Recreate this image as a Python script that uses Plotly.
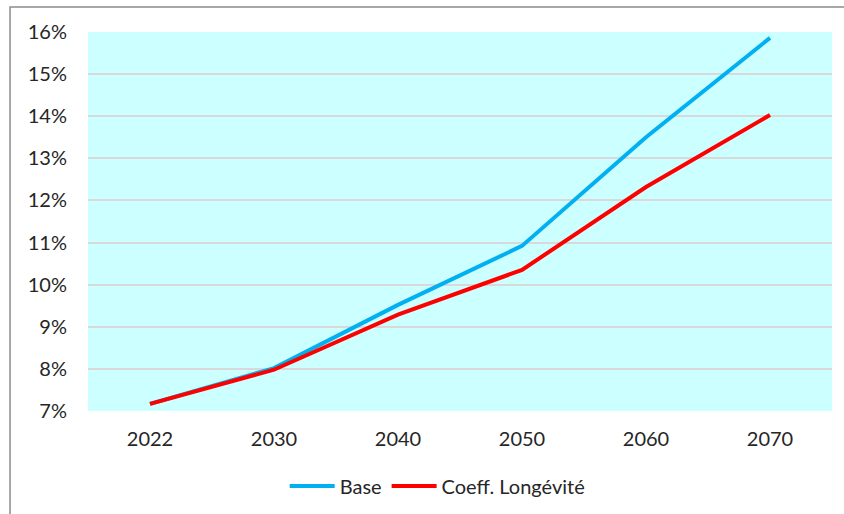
import plotly.graph_objects as go

years = ["2022", "2030", "2040", "2050", "2060", "2070"]
base = [7.17, 8.02, 9.52, 10.92, 13.50, 15.86]
coeff_longevite = [7.17, 7.98, 9.29, 10.35, 12.32, 14.03]
y_ticks = [7, 8, 9, 10, 11, 12, 13, 14, 15, 16]
y_tick_labels = [f"{v}%" for v in y_ticks]

font_family = "Lato, 'Open Sans', sans-serif"
text_color = "#262626"

fig = go.Figure()
fig.add_trace(go.Scatter(x=years, y=base, mode="lines", name="Base",
                         line=dict(color="#00B0F0", width=4)))
fig.add_trace(go.Scatter(x=years, y=coeff_longevite, mode="lines", name="Coeff. Longévité",
                         line=dict(color="#FF0000", width=4)))

fig.update_layout(
    width=844, height=514,
    margin=dict(l=88, r=12, t=32, b=103, autoexpand=False),
    paper_bgcolor="white",
    plot_bgcolor="#CCFFFF",
    font=dict(family=font_family, size=20, color=text_color),
    showlegend=True,
    legend=dict(orientation="h", x=0.47, xanchor="center", y=-0.198, yanchor="middle",
                font=dict(size=20), itemwidth=45, tracegroupgap=0),
    xaxis=dict(type="category", range=[-0.5, 5.5], showgrid=False, zeroline=False,
               showline=False, ticks="", ticklabelstandoff=14),
    yaxis=dict(range=[7, 16], tickvals=y_ticks, ticktext=y_tick_labels,
               showgrid=True, gridcolor="#D9D9D9", gridwidth=1.5,
               zeroline=False, showline=False, ticks="", ticklabelstandoff=20),
    shapes=[dict(type="rect", xref="paper", yref="paper",
                 x0=-0.1048, x1=1.2, y0=-0.4, y1=1.066,
                 line=dict(color="#8C8C8C", width=1.5), fillcolor="rgba(0,0,0,0)",
                 layer="below")],
)

fig.write_html("out.html")
